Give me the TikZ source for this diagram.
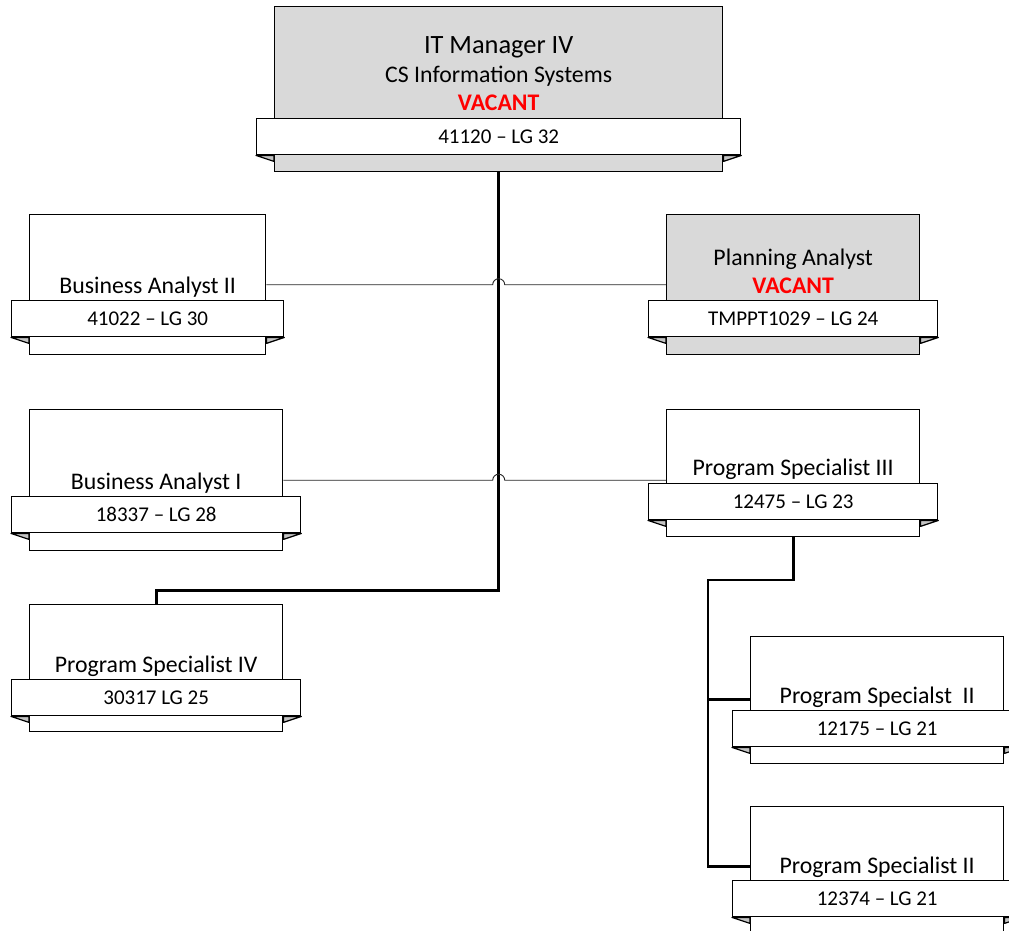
\documentclass[tikz,border=0pt]{standalone}
\usepackage{fontspec}
\setmainfont{Carlito}
\usetikzlibrary{positioning}

\definecolor{vacgray}{HTML}{D9D9D9}
\definecolor{foldgray}{HTML}{C3C3C3}
\definecolor{vacred}{HTML}{FF0000}

\tikzset{
  post/.style={draw, line width=1.4pt, minimum width=253pt, minimum height=127pt,
    inner sep=0pt, anchor=north west},
  badge/.style={draw, fill=white, line width=1.4pt, minimum width=289pt,
    minimum height=36pt, inner sep=0pt, font=\fontsize{21}{25}\selectfont},
  title/.style={inner sep=0pt, text depth=0pt, align=center,
    font=\fontsize{23.8}{28.5}\selectfont},
  fold/.style={draw, fill=foldgray, line width=1.2pt, line join=round},
  chief/.style={line width=2.6pt},
  peer/.style={line width=0.9pt, black!85},
}
\newcommand{\vacant}{\textcolor{vacred}{\bfseries VACANT}}
% folds of a badge round its box: \badgefolds{box}{badge}
\newcommand{\badgefolds}[2]{%
  \draw[fold] (#2.south west) -- (#2.south west -| #1.west) -- ++(0,6) -- cycle;
  \draw[fold] (#2.south east) -- (#2.south east -| #1.east) -- ++(0,6) -- cycle;}

\begin{document}
\begin{tikzpicture}[x=1pt, y=-1pt]
  \useasboundingbox (0,0) rectangle (1009,930);
  % Boxes
  \node[post, fill=vacgray, minimum width=448pt, minimum height=165pt] (itm) at (274,6) {};
  \node[post, minimum width=236pt, minimum height=140pt] (ba2) at (29,214) {};
  \node[post, minimum height=141pt] (ba1) at (29,409) {};
  \node[post] (ps4) at (29,604) {};
  \node[post, fill=vacgray, minimum height=140pt] (pa) at (666,214) {};
  \node[post] (ps3) at (666,409) {};
  \node[post] (ps2a) at (750,636) {};
  \node[post] (ps2b) at (750,806) {};
  % Badges
  \node[badge, minimum width=484pt, above=17pt of itm.south] (itm-b) {41120 – LG 32};
  \node[badge, minimum width=272pt, above=18pt of ba2.south] (ba2-b) {41022 – LG 30};
  \node[badge, above=18pt of ba1.south] (ba1-b) {18337 – LG 28};
  \node[badge, above=16pt of ps4.south] (ps4-b) {30317 LG 25};
  \node[badge, above=18pt of pa.south] (pa-b) {TMPPT1029 – LG 24};
  \node[badge, above=17pt of ps3.south] (ps3-b) {12475 – LG 23};
  \node[badge, above=17pt of ps2a.south] (ps2a-b) {12175 – LG 21};
  \node[badge, above=17pt of ps2b.south] (ps2b-b) {12374 – LG 21};
  \badgefolds{itm}{itm-b}
  \badgefolds{ba2}{ba2-b}
  \badgefolds{ba1}{ba1-b}
  \badgefolds{ps4}{ps4-b}
  \badgefolds{pa}{pa-b}
  \badgefolds{ps3}{ps3-b}
  \badgefolds{ps2a}{ps2a-b}
  \badgefolds{ps2b}{ps2b-b}
  % Titles
  \node[title, above=7pt of itm-b.north] (itm-t)
    {{\fontsize{26.4}{29}\selectfont IT Manager IV}\\CS Information Systems\\\vacant};
  \node[title, above=6pt of ba2-b.north] (ba2-t) {Business Analyst II};
  \node[title, above=6pt of ba1-b.north] (ba1-t) {Business Analyst I};
  \node[title, above=6pt of ps4-b.north] (ps4-t) {Program Specialist IV};
  \node[title, above=6pt of pa-b.north] (pa-t) {Planning Analyst\\\vacant};
  \node[title, above=7pt of ps3-b.north] (ps3-t) {Program Specialist III};
  \node[title, above=6pt of ps2a-b.north] (ps2a-t) {Program Specialst\ \ II};
  \node[title, above=6pt of ps2b-b.north] (ps2b-t) {Program Specialist II};
  % Ways
  \coordinate (spine) at (708,580);
  \draw[chief] (itm.south) -- ++(0,418) -| (ps4.north);
  \draw[peer] (ba2.east) -- ([xshift=-6pt]ba2.east -| itm.south)
    arc[start angle=180, end angle=0, radius=6pt] -- (pa.west);
  \draw[peer] (ba1.east) -- ([xshift=-6pt]ba1.east -| itm.south)
    arc[start angle=180, end angle=0, radius=6pt] -- (ba1.east -| ps3.west);
  \draw[chief] (ps3.south) |- (spine) |- ([yshift=4pt]ps2b.west);
  \draw[chief] ([yshift=1pt]spine |- ps2a.west) -- ([yshift=1pt]ps2a.west);
\end{tikzpicture}
\end{document}
